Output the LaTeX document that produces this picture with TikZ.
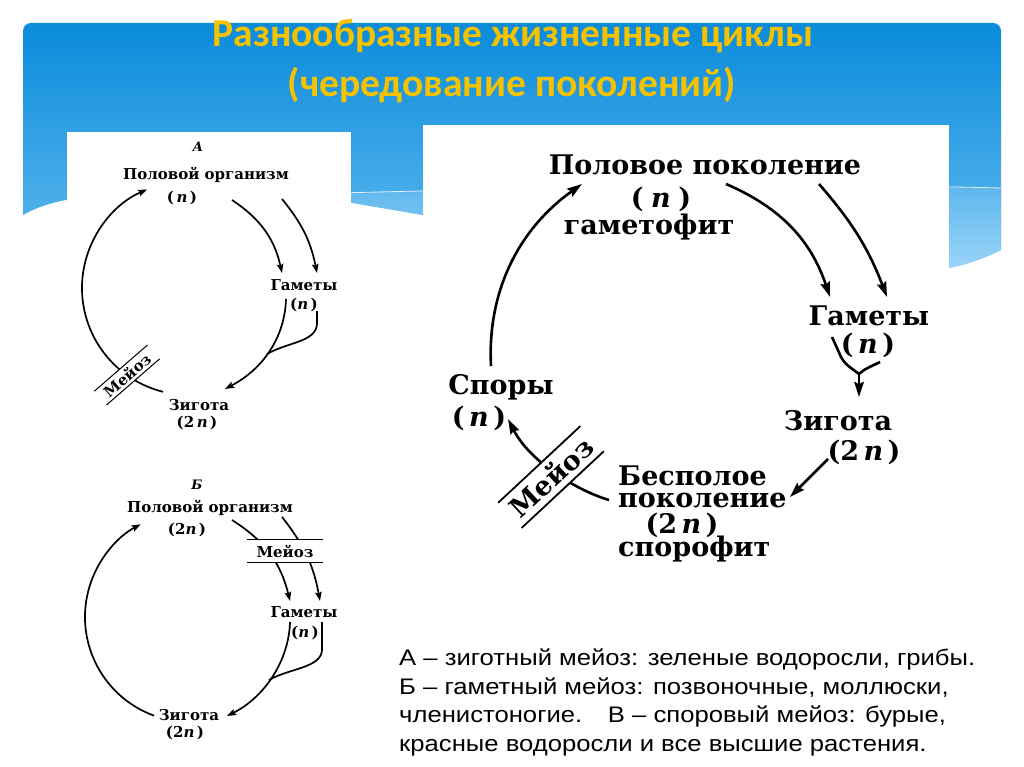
\documentclass[tikz,border=0pt]{standalone}
\usepackage{fontspec}
\usetikzlibrary{arrows.meta,calc}
\newfontfamily\dfont{DejaVu Serif}
\newfontfamily\tfont{Carlito}
\newfontfamily\bfont{Liberation Sans}
\definecolor{ttl}{HTML}{F5C200}
\definecolor{bTop}{HTML}{0A8BDB}
\definecolor{bBot}{HTML}{62BAEF}
\definecolor{bandTop}{HTML}{5CB6EE}
\definecolor{bandBot}{HTML}{9AD4F7}
\newcommand{\wide}[1]{\scalebox{1.14}[1]{#1}}
\begin{document}
\begin{tikzpicture}[x=1pt,y=-1pt,
  lt/.style={font=\dfont\bfseries\fontsize{15}{16}\selectfont, inner sep=0pt},
  li/.style={font=\dfont\bfseries\itshape\fontsize{13}{14}\selectfont, inner sep=0pt},
  rt/.style={font=\dfont\bfseries\fontsize{27}{29}\selectfont, inner sep=0pt},
  ttlstyle/.style={font=\tfont\bfseries\fontsize{39.5}{41}\selectfont, text=ttl, inner sep=0pt},
  btxt/.style={font=\bfont\fontsize{22.5}{24}\selectfont, inner sep=0pt, anchor=base west},
  la/.style={line width=1.7pt, -{Stealth[length=9pt,width=6.5pt,inset=1.5pt]}},
  ll/.style={line width=1.7pt},
  ra/.style={line width=2.6pt, -{Stealth[length=15pt,width=9.5pt,inset=2pt]}},
  rl/.style={line width=2.6pt},
  mbox/.style={fill=white, inner sep=0pt}]
\useasboundingbox (0,0) rectangle (1024,767);
\fill[white] (0,0) rectangle (1024,767);
% banner
\shade[top color=bTop, bottom color=bBot] (23,215) [rounded corners=8pt] -- (23,23) -- (1001,23) [sharp corners] -- (1001,250)
  .. controls (985,258) and (965,265) .. (949,268) -- (423,215) -- (350,202) -- (66,200)
  .. controls (50,203) and (35,208) .. (23,215) -- cycle;
\shade[top color=bandTop, bottom color=bandBot] (340,193) .. controls (600,186) and (850,184) .. (1001,188) -- (1001,250)
  .. controls (985,258) and (965,265) .. (949,268) -- (423,215) -- (340,201) -- cycle;
\draw[white, line width=0.8pt, opacity=0.8] (340,193) .. controls (600,186) and (850,184) .. (1001,188);
% panels
\fill[white] (67,132) rectangle (351,767);
\fill[white] (423,125) rectangle (949,767);
% title
\node[ttlstyle, anchor=base] (t1) at (513,47) {Разнообразные жизненные циклы};
\node[ttlstyle, anchor=base] (t2) at (512,97) {(чередование поколений)};

% ===== Diagram A =====
\node[li] (lA) at (198,147) {А};
\node[lt] (pA) at (206,175) {Половой организм};
\node[lt] (pnA) at (182,198) {(\,\textit{n}\,)};
\node[lt] (gA) at (304,285) {Гаметы};
\node[lt] (gnA) at (304,305) {(\textit{n}\,)};
\node[lt] (zA) at (199,405) {Зигота};
\node[lt] (znA) at (197,423) {(2\,\textit{n}\,)};
\coordinate (cA) at (189,288);
\draw[la] (cA) ++(104:107) arc[start angle=104,end angle=247,radius=107];
\coordinate (a1s) at (232,200); \coordinate (a1e) at (282,273);
\coordinate (a2s) at (282,199); \coordinate (a2e) at (317,273);
\draw[la] (a1s) to[bend left=22] (a1e);
\draw[la] (a2s) to[bend left=14] (a2e);
\coordinate (g1s) at (286,299); \coordinate (g2s) at (317,311);
\coordinate (jA) at (267,354); \coordinate (zAe) at (225,389);
\draw[la] (g1s) .. controls (285,335) and (265,368) .. (zAe);
\draw[ll] (g2s) -- (317,324) .. controls (316,342) and (288,342) .. (jA);
\node[lt, mbox, rotate=41, minimum width=70pt, minimum height=18pt] (mA) at (127,375) {Мейоз};
\draw[line width=1pt] (mA.north west) -- (mA.north east);
\draw[line width=1pt] (mA.south west) -- (mA.south east);

% ===== Diagram B =====
\node[li] (lB) at (197,485) {Б};
\node[lt] (pB) at (210,508) {Половой организм};
\node[lt] (pnB) at (187,530) {(2\textit{n}\,)};
\node[lt] (gB) at (304,612) {Гаметы};
\node[lt] (gnB) at (305,633) {(\textit{n}\,)};
\node[lt] (zB) at (189,715) {Зигота};
\node[lt] (znB) at (185,733) {(2\textit{n}\,)};
\coordinate (cB) at (190,617);
\draw[la] (cB) ++(110:105) arc[start angle=110,end angle=242,radius=105];
\coordinate (b1s) at (232,520); \coordinate (b1e) at (290,601);
\coordinate (b2s) at (282,517); \coordinate (b2e) at (320,601);
\draw[la] (b1s) to[bend left=22] (b1e);
\draw[la] (b2s) to[bend left=14] (b2e);
\node[lt, mbox, minimum width=76pt, minimum height=22pt] (mB) at (285,551) {Мейоз};
\draw[line width=1pt] (mB.north west) -- (mB.north east);
\draw[line width=1pt] (mB.south west) -- (mB.south east);
\coordinate (h1s) at (290,622); \coordinate (h2s) at (322,622);
\coordinate (jB) at (269,680); \coordinate (zBe) at (227,716);
\draw[la] (h1s) .. controls (289,660) and (265,697) .. (zBe);
\draw[ll] (h2s) -- (322,650) .. controls (321,668) and (290,668) .. (jB);

% ===== Diagram V =====
\node[rt] (pV) at (705,165) {Половое поколение};
\node[rt] (pnV) at (661,199) {(\;\textit{n}\;)};
\node[rt] (gfV) at (649,227) {гаметофит};
\node[rt] (gV) at (869,316) {Гаметы};
\node[rt] (gnV) at (868,345) {(\,\textit{n}\,)};
\node[rt] (zV) at (838,421) {Зигота};
\node[rt] (znV) at (864,452) {(2\,\textit{n}\,)};
\node[rt, anchor=west] (bV1) at (618,476) {Бесполое};
\node[rt, anchor=west] (bV2) at (618,500) {поколение};
\node[rt] (bV3) at (682,525) {(2\,\textit{n}\,)};
\node[rt, anchor=west] (bV4) at (618,549) {спорофит};
\node[rt] (sV) at (501,387) {Споры};
\node[rt] (snV) at (479,418) {(\,\textit{n}\,)};
\coordinate (v0s) at (491,366); \coordinate (v0e) at (582,184);
\draw[ra] (v0s) .. controls (487,290) and (520,228) .. (v0e);
\coordinate (v1s) at (726,184); \coordinate (v1e) at (830,297);
\coordinate (v2s) at (819,184); \coordinate (v2e) at (887,297);
\draw[ra] (v1s) to[bend left=24] (v1e);
\draw[ra] (v2s) to[bend left=10] (v2e);
\coordinate (y1) at (832,337); \coordinate (y2) at (880,362);
\coordinate (jV) at (859,374); \coordinate (zVe) at (859,397);
\draw[rl] (y1) -- (841,357) .. controls (846,366) and (853,369) .. (jV);
\draw[rl] (y2) .. controls (872,366) and (864,369) .. (jV);
\draw[ra] (jV) -- (zVe);
\coordinate (w1s) at (828,459); \coordinate (w1e) at (790,497);
\draw[ra] (w1s) -- (w1e);
\coordinate (m1s) at (609,500); \coordinate (m1e) at (508,419);
\draw[ra] (m1s) .. controls (578,491) and (530,462) .. (m1e);
\node[rt, mbox, rotate=43, minimum width=112pt, minimum height=34pt] (mV) at (551,477) {Мейоз};
\draw[line width=1.8pt] (mV.north west) -- (mV.north east);
\draw[line width=1.8pt] (mV.south west) -- (mV.south east);

% bottom text
\node[btxt] (x1) at (399,665) {\wide{А – зиготный мейоз: зеленые водоросли, грибы.}};
\node[btxt] (x2) at (399,694) {\wide{Б – гаметный мейоз: позвоночные, моллюски,}};
\node[btxt] (x3) at (399,722) {\wide{членистоногие.\quad В – споровый мейоз: бурые,}};
\node[btxt] (x4) at (399,751) {\wide{красные водоросли и все высшие растения.}};
\end{tikzpicture}
\end{document}
